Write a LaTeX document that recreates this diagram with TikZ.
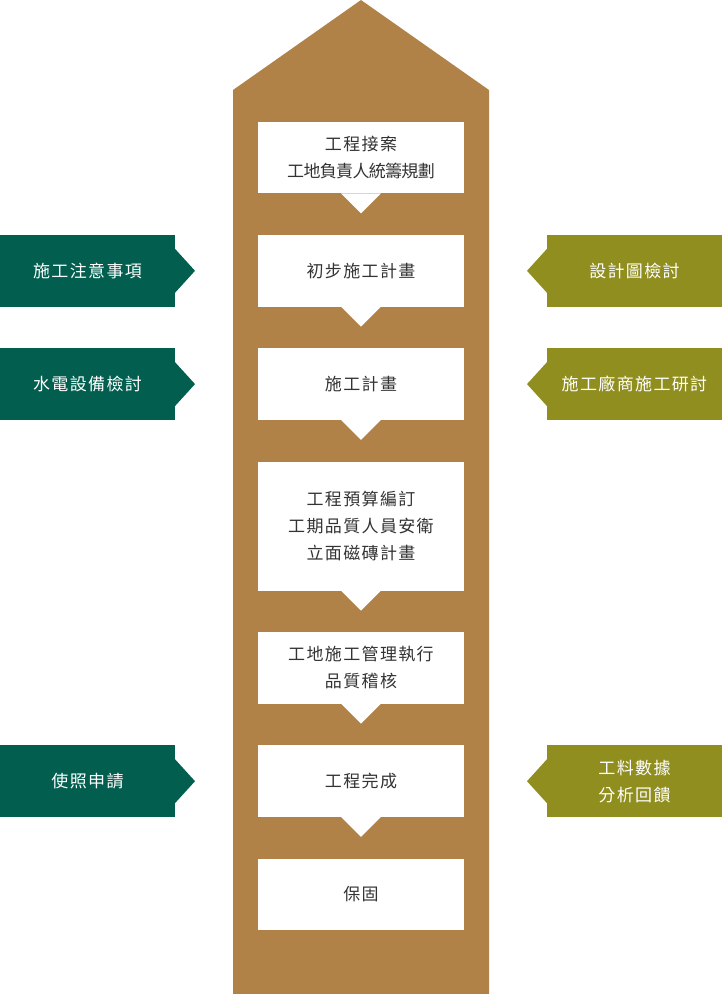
\documentclass[tikz,border=0pt]{standalone}
\usepackage{fontspec}
\newfontfamily\cjk[LetterSpace=8]{Noto Sans CJK TC}
\usetikzlibrary{positioning,calc}
\definecolor{housebrown}{RGB}{177,130,72}
\definecolor{notegreen}{RGB}{2,94,78}
\definecolor{reviewolive}{RGB}{143,142,30}
\definecolor{textgray}{RGB}{51,51,51}

\begin{document}
\begin{tikzpicture}[
    x=1pt, y=-1pt,
    node distance=41.8pt,
    every node/.style={font=\cjk\fontsize{17}{27}\selectfont, outer sep=0pt},
    stepbox/.style={rectangle, fill=white, text=textgray, minimum width=206pt, minimum height=71.5pt, align=center, inner sep=0pt},
    leftnote/.style={rectangle, fill=notegreen, text=white, minimum width=175pt, minimum height=71.5pt, align=center, inner sep=0pt},
    rightnote/.style={rectangle, fill=reviewolive, text=white, minimum width=175pt, minimum height=71.5pt, align=center, inner sep=0pt}
]
\useasboundingbox (0,0) rectangle (722,994);

% House body
\fill[housebrown] (233,994) -- (233,90) -- (361,0) -- (489,90) -- (489,994) -- cycle;

% Steps
\node[stepbox] (accept) at (361,157.5) {工程接案\\{\addfontfeature{LetterSpace=-4}工地負責人統籌規劃}};
\node[stepbox, below=of accept] (prelim) {初步施工計畫};
\node[stepbox, below=of prelim] (plan) {施工計畫};
\node[stepbox, below=of plan, minimum height=129pt] (budget) {工程預算編訂\\工期品質人員安衛\\立面磁磚計畫};
\node[stepbox, below=41.5pt of budget] (manage) {工地施工管理執行\\品質稽核};
\node[stepbox, below=of manage] (finish) {工程完成};
\node[stepbox, below=of finish] (warranty) {保固};

% Notches under the steps
\foreach \n in {accept,prelim,plan,budget,manage,finish}
  \fill[white] ($(\n.south)+(-20,0)$) -- ($(\n.south)+(0,20)$) -- ($(\n.south)+(20,0)$) -- cycle;

% Left notes
\node[leftnote, left=83pt of prelim] (caution) {施工注意事項};
\node[leftnote, left=83pt of plan] (mep) {水電設備檢討};
\node[leftnote, left=83pt of finish] (permit) {使照申請};
\foreach \n in {caution,mep,permit}
  \fill[notegreen] ($(\n.east)+(0,-22)$) -- ($(\n.east)+(20,0)$) -- ($(\n.east)+(0,22)$) -- cycle;

% Right notes
\node[rightnote, right=83pt of prelim] (design) {設計圖檢討};
\node[rightnote, right=83pt of plan] (vendor) {施工廠商施工研討};
\node[rightnote, right=83pt of finish] (feedback) {工料數據\\分析回饋};
\foreach \n in {design,vendor,feedback}
  \fill[reviewolive] ($(\n.west)+(0,-22)$) -- ($(\n.west)+(-20,0)$) -- ($(\n.west)+(0,22)$) -- cycle;

\end{tikzpicture}
\end{document}
